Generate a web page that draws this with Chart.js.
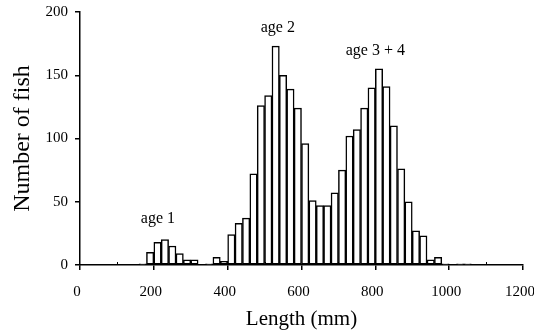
<!DOCTYPE html>
<html>
<head>
<meta charset="utf-8">
<title>Length frequency</title>
<script src="https://cdn.jsdelivr.net/npm/chart.js@4.4.0/dist/chart.umd.min.js"></script>
<style>
    html, body { margin: 0; padding: 0; background: #fff; }
    canvas { display: block; }
</style>
</head>
<body>
<canvas id="lengthChart" width="534" height="333"></canvas>
<script>
// Length-frequency histogram, 20 mm bins (value = lower edge of bin)
const binStarts = [160, 180, 200, 220, 240, 260, 280, 300, 320, 340, 360, 380,
    400, 420, 440, 460, 480, 500, 520, 540, 560, 580, 600, 620, 640, 660, 680,
    700, 720, 740, 760, 780, 800, 820, 840, 860, 880, 900, 920, 940, 960, 980,
    1000, 1020, 1040];
const fishCounts = [1, 10, 18, 20, 15, 9, 4, 4, 0, 1, 6, 3,
    24, 33, 37, 72, 126, 134, 173, 150, 139, 124, 96, 51, 47, 47, 57,
    75, 102, 107, 124, 140, 155, 141, 110, 76, 50, 27, 23, 4, 6, 1,
    0, 1, 1];
const binWidth = 20;

const xTicks = [0, 200, 400, 600, 800, 1000, 1200];
const xMinorTicks = [100, 300, 500, 700, 900, 1100];
const yTicks = [0, 50, 100, 150, 200];

const ageLabels = ['age 1', 'age 2', 'age 3 + 4'];

// where the age labels sit, in axis units (mm, fish)
const ageLabelAnchors = [
    { x: 211, y: 33 },
    { x: 536, y: 184 },
    { x: 800, y: 166 }
];

Chart.defaults.font.family = "'Liberation Serif', 'Times New Roman', serif";
Chart.defaults.color = '#000';

/**
 * Minor x ticks (inside) and the age annotations
 */
const extrasPlugin = {
    id: 'extras',
    afterDraw(chart) {
        const ctx = chart.ctx;
        const xs = chart.scales.x;
        const ys = chart.scales.y;
        const base = ys.getPixelForValue(0);

        ctx.save();
        ctx.strokeStyle = '#000';
        ctx.lineWidth = 1;
        xMinorTicks.forEach(v => {
            const px = Math.round(xs.getPixelForValue(v)) + 0.5;
            ctx.beginPath();
            ctx.moveTo(px, base);
            ctx.lineTo(px, base - 3);
            ctx.stroke();
        });

        ctx.fillStyle = '#000';
        ctx.font = "16px 'Liberation Serif', serif";
        ctx.textAlign = 'center';
        ctx.textBaseline = 'alphabetic';
        ageLabels.forEach((txt, i) => {
            const a = ageLabelAnchors[i];
            ctx.fillText(txt, xs.getPixelForValue(a.x), ys.getPixelForValue(a.y));
        });
        ctx.restore();
    }
};

const ctx = document.getElementById('lengthChart').getContext('2d');

new Chart(ctx, {
    type: 'bar',
    data: {
        datasets: [{
            label: 'Number of fish',
            data: binStarts.map((b, i) => ({ x: b + binWidth / 2, y: fishCounts[i] })),
            backgroundColor: '#fff',
            borderColor: '#000',
            borderWidth: 1.5,
            borderSkipped: false,
            barPercentage: 1,
            categoryPercentage: 1
        }]
    },
    options: {
        responsive: false,
        animation: false,
        devicePixelRatio: 1,
        layout: {
            padding: { top: 12, right: 11, left: 0, bottom: 0 }
        },
        plugins: {
            legend: { display: false },
            tooltip: { enabled: false }
        },
        scales: {
            x: {
                type: 'linear',
                min: 0,
                max: 1200,
                offset: false,
                afterBuildTicks: scale => {
                    scale.ticks = xTicks.map(v => ({ value: v }));
                },
                afterFit: scale => {
                    scale.height = 68;
                    scale.paddingLeft = 0;
                    scale.paddingRight = 0;
                },
                border: { display: true, color: '#000', width: 1.5 },
                grid: {
                    offset: false,
                    drawOnChartArea: false,
                    color: '#000',
                    lineWidth: 1.5,
                    tickLength: 5
                },
                ticks: {
                    font: { size: 15 },
                    padding: 13,
                    labelOffset: -3,
                    maxRotation: 0,
                    callback: v => String(v)
                },
                title: {
                    display: true,
                    text: 'Length (mm)',
                    font: { size: 21 },
                    padding: { top: 0, bottom: 1 }
                }
            },
            y: {
                min: 0,
                max: 200,
                afterBuildTicks: scale => {
                    scale.ticks = yTicks.map(v => ({ value: v }));
                },
                afterFit: scale => {
                    scale.width = 80;
                    scale.paddingTop = 0;
                    scale.paddingBottom = 0;
                },
                border: { display: true, color: '#000', width: 1.5 },
                grid: {
                    drawOnChartArea: false,
                    color: '#000',
                    lineWidth: 1.5,
                    tickLength: 5
                },
                ticks: {
                    font: { size: 15 },
                    padding: 7,
                    callback: v => String(v)
                },
                title: {
                    display: true,
                    text: 'Number of fish',
                    font: { size: 24 },
                    padding: { top: 8, bottom: 0 }
                }
            }
        }
    },
    plugins: [extrasPlugin]
});
</script>
</body>
</html>
